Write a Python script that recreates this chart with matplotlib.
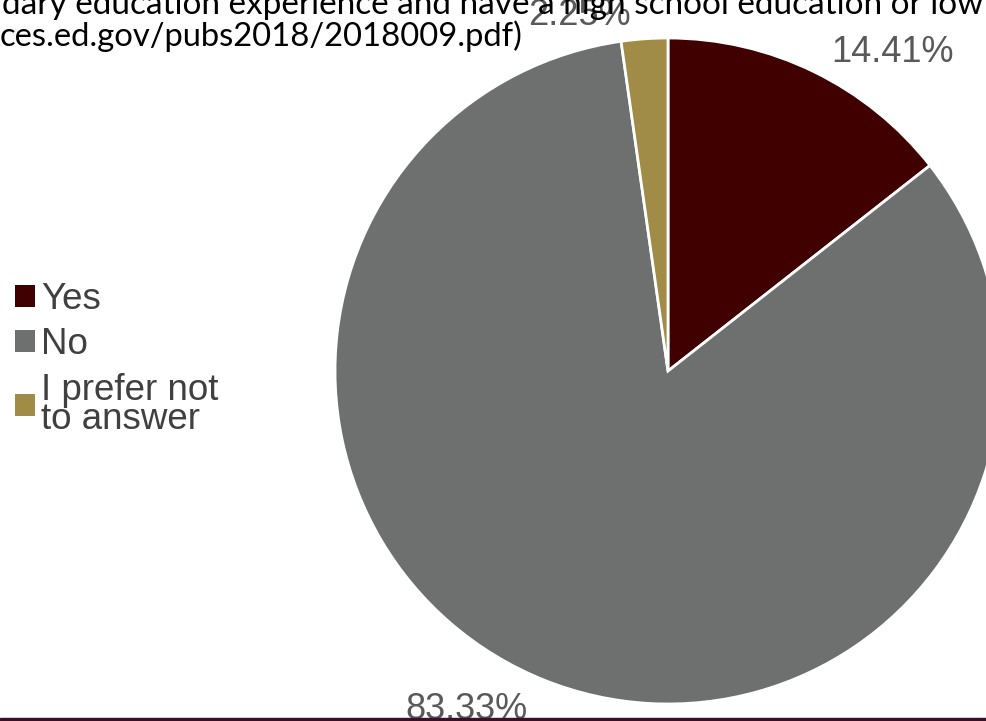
import matplotlib.pyplot as plt
from matplotlib.patches import Patch

# survey answers
categories = ["Yes", "No", "I prefer not\nto answer"]
shares = [14.41, 83.33, 2.25]
colors = ["#400000", "#6e7070", "#a08b47"]

title_lines = [
    "dary education experience and have a high school education or low",
    "ces.ed.gov/pubs2018/2018009.pdf)",
]

W, H = 986, 721
fig = plt.figure(figsize=(W / 100, H / 100), dpi=100)
ax = fig.add_axes([0, 0, 1, 1])

# pie drawn in pixel-sized data units (y counted up from the bottom)
cx, cy, r = 668, H - 371, 333
wedges, _ = ax.pie(shares, colors=colors, startangle=90, counterclock=False,
                   center=(cx, cy), radius=r, explode=[0, 0, 0.015], frame=True,
                   wedgeprops=dict(edgecolor="white", linewidth=2))

# percentage labels (baseline positions)
label_pos = [(893, H - 62), (466, H - 719), (579, H - 25)]
for share, (x, y) in zip(shares, label_pos):
    ax.text(x, y, f"{share:.2f}%", ha="center", va="baseline", fontsize=26,
            color="#595959", family="Liberation Sans", zorder=3)

# slide text above the chart, cut by the frame
ax.text(2, H - 14, title_lines[0], ha="left", va="baseline", fontsize=24,
        family="Lato", color="black", zorder=5)
ax.text(0, H - 46, title_lines[1], ha="left", va="baseline", fontsize=23.6,
        family="Lato", color="black", zorder=5)

handles = [Patch(facecolor=c, edgecolor="none") for c in colors]
leg = ax.legend(handles, categories, loc="upper left", bbox_to_anchor=(15, H - 282),
                bbox_transform=ax.transData, frameon=False,
                prop={"family": "Liberation Sans", "size": 26.5},
                handlelength=0.55, handleheight=0.55, handletextpad=0.15,
                labelspacing=0.28, borderpad=0, borderaxespad=0)
for t in leg.get_texts():
    t.set_color("#404040")
    t.set_linespacing(0.8)

# footer rule
ax.axhspan(0, 3, color="#3b0f26", zorder=6)

ax.set_xlim(0, W)
ax.set_ylim(0, H)
ax.axis("off")

fig.savefig("out.png", dpi=100)
